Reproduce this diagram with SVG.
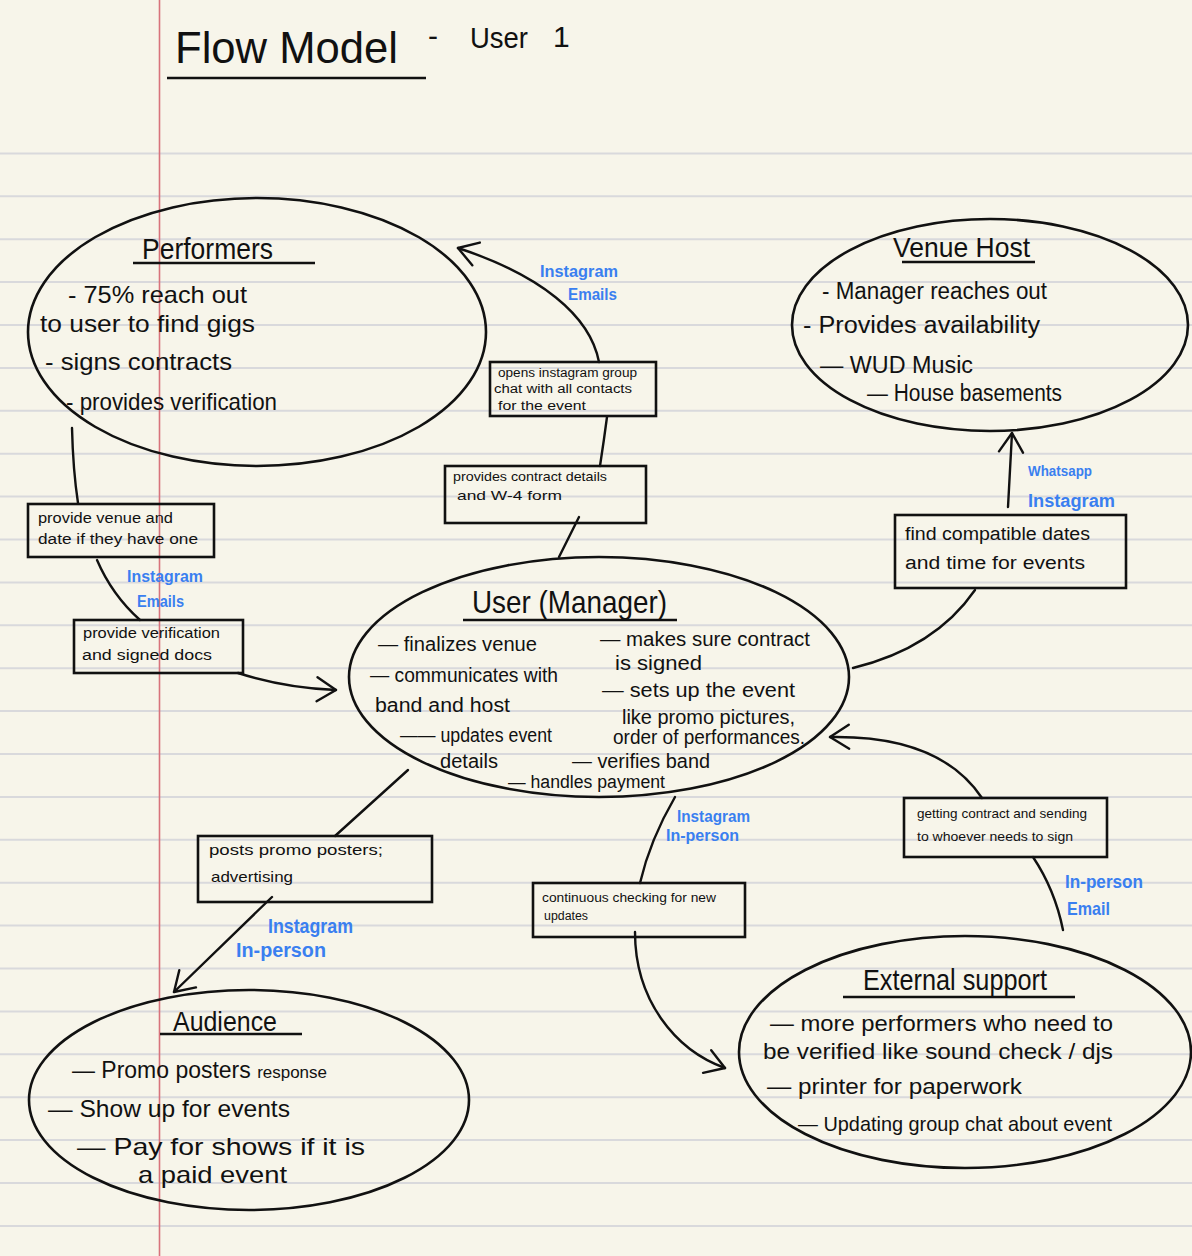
<svg xmlns="http://www.w3.org/2000/svg" width="1192" height="1256" viewBox="0 0 1192 1256">
<defs>
<style>
.paper{fill:#f7f5ea}
.rule{stroke:#d9d9dc;stroke-width:2}
.margin{stroke:#d8737c;stroke-width:1.6}
.node{fill:none;stroke:#111;stroke-width:2.6}
.box{fill:none;stroke:#111;stroke-width:2.6}
.ul{stroke:#111;stroke-width:2.6}
.conn{fill:none;stroke:#111;stroke-width:2.4;stroke-linecap:round}
.t{font-family:"Liberation Sans",Arial,sans-serif;fill:#111}
.blue{font-family:"Liberation Sans",Arial,sans-serif;fill:#3a7ff0;font-weight:bold}
</style>
<marker id="chev" markerUnits="userSpaceOnUse" markerWidth="30" markerHeight="30" viewBox="-22 -15 26 30" refX="0" refY="0" orient="auto">
<path d="M-19,-12 L0,0 L-19,12" fill="none" stroke="#111" stroke-width="2.4" stroke-linecap="round" stroke-linejoin="round"/>
</marker>
</defs>
<rect class="paper" x="0" y="0" width="1192" height="1256"/>
<g id="paper-rules">
<line class="rule" x1="0" y1="153.4" x2="1192" y2="153.4"/>
<line class="rule" x1="0" y1="196.3" x2="1192" y2="196.3"/>
<line class="rule" x1="0" y1="239.2" x2="1192" y2="239.2"/>
<line class="rule" x1="0" y1="282.1" x2="1192" y2="282.1"/>
<line class="rule" x1="0" y1="325" x2="1192" y2="325"/>
<line class="rule" x1="0" y1="367.9" x2="1192" y2="367.9"/>
<line class="rule" x1="0" y1="410.8" x2="1192" y2="410.8"/>
<line class="rule" x1="0" y1="453.7" x2="1192" y2="453.7"/>
<line class="rule" x1="0" y1="496.6" x2="1192" y2="496.6"/>
<line class="rule" x1="0" y1="539.5" x2="1192" y2="539.5"/>
<line class="rule" x1="0" y1="582.4" x2="1192" y2="582.4"/>
<line class="rule" x1="0" y1="625.3" x2="1192" y2="625.3"/>
<line class="rule" x1="0" y1="668.2" x2="1192" y2="668.2"/>
<line class="rule" x1="0" y1="711.1" x2="1192" y2="711.1"/>
<line class="rule" x1="0" y1="754" x2="1192" y2="754"/>
<line class="rule" x1="0" y1="796.9" x2="1192" y2="796.9"/>
<line class="rule" x1="0" y1="839.8" x2="1192" y2="839.8"/>
<line class="rule" x1="0" y1="882.7" x2="1192" y2="882.7"/>
<line class="rule" x1="0" y1="925.6" x2="1192" y2="925.6"/>
<line class="rule" x1="0" y1="968.5" x2="1192" y2="968.5"/>
<line class="rule" x1="0" y1="1011.4" x2="1192" y2="1011.4"/>
<line class="rule" x1="0" y1="1054.3" x2="1192" y2="1054.3"/>
<line class="rule" x1="0" y1="1097.2" x2="1192" y2="1097.2"/>
<line class="rule" x1="0" y1="1140.1" x2="1192" y2="1140.1"/>
<line class="rule" x1="0" y1="1183" x2="1192" y2="1183"/>
<line class="rule" x1="0" y1="1225.9" x2="1192" y2="1225.9"/>
<line class="margin" x1="159.5" y1="0" x2="159.5" y2="1256"/>
</g>
<g id="title">
<text class="t" x="175" y="63" font-size="44" textLength="223" lengthAdjust="spacingAndGlyphs">Flow Model</text>
<text class="t" x="428" y="46" font-size="30">-</text>
<text class="t" x="470" y="48" font-size="30" textLength="58" lengthAdjust="spacingAndGlyphs">User</text>
<text class="t" x="553" y="47" font-size="30">1</text>
<line class="ul" x1="167" y1="78" x2="426" y2="78" stroke-width="3"/>
</g>
<g id="connectors">
<path class="conn" d="M600,466 Q604,440 607,417"/>
<path class="conn" d="M599,362 C590,315 540,275 458,248" marker-end="url(#chev)"/>
<path class="conn" d="M579,517 L559,557"/>
<path class="conn" d="M72,428 Q73,470 78,503"/>
<path class="conn" d="M97,560 Q112,595 140,620"/>
<path class="conn" d="M238,673 Q285,688 336,690" marker-end="url(#chev)"/>
<path class="conn" d="M1008,507 Q1010,470 1012,433" marker-end="url(#chev)"/>
<path class="conn" d="M975,590 Q935,648 853,668"/>
<path class="conn" d="M408,770 L335,836"/>
<path class="conn" d="M272,897 L174,992" marker-end="url(#chev)"/>
<path class="conn" d="M675,797 Q650,840 640,883"/>
<path class="conn" d="M635,932 C635,1000 675,1050 725,1068" marker-end="url(#chev)"/>
<path class="conn" d="M982,798 Q940,735 830,737" marker-end="url(#chev)"/>
<path class="conn" d="M1033,857 Q1055,890 1063,930"/>
</g>
<g id="node-performers">
<ellipse class="node" cx="257" cy="332" rx="229" ry="134"/>
<text class="t" x="142" y="259" font-size="30" textLength="131" lengthAdjust="spacingAndGlyphs">Performers</text>
<line class="ul" x1="133" y1="263" x2="315" y2="263"/>
<text class="t" x="68" y="303" font-size="24" textLength="179" lengthAdjust="spacingAndGlyphs">- 75% reach out</text>
<text class="t" x="40" y="332" font-size="24" textLength="215" lengthAdjust="spacingAndGlyphs">to user to find gigs</text>
<text class="t" x="45" y="370" font-size="24" textLength="187" lengthAdjust="spacingAndGlyphs">- signs contracts</text>
<text class="t" x="66" y="410" font-size="24" textLength="211" lengthAdjust="spacingAndGlyphs">- provides verification</text>
</g>
<g id="node-venue-host">
<ellipse class="node" cx="990" cy="325" rx="198" ry="106"/>
<text class="t" x="893" y="257" font-size="28" textLength="137" lengthAdjust="spacingAndGlyphs">Venue Host</text>
<line class="ul" x1="902" y1="262" x2="1035" y2="262"/>
<text class="t" x="822" y="299" font-size="23" textLength="225" lengthAdjust="spacingAndGlyphs">- Manager reaches out</text>
<text class="t" x="803" y="333" font-size="23" textLength="237" lengthAdjust="spacingAndGlyphs">- Provides availability</text>
<text class="t" x="820" y="373" font-size="23" textLength="153" lengthAdjust="spacingAndGlyphs">— WUD Music</text>
<text class="t" x="867" y="401" font-size="23" textLength="195" lengthAdjust="spacingAndGlyphs">— House basements</text>
</g>
<g id="node-user">
<ellipse class="node" cx="599" cy="677" rx="250" ry="120"/>
<text class="t" x="472" y="613" font-size="32" textLength="195" lengthAdjust="spacingAndGlyphs">User (Manager)</text>
<line class="ul" x1="463" y1="620" x2="677" y2="620"/>
<text class="t" x="378" y="651" font-size="20" textLength="159" lengthAdjust="spacingAndGlyphs">— finalizes venue</text>
<text class="t" x="370" y="682" font-size="20" textLength="188" lengthAdjust="spacingAndGlyphs">— communicates with</text>
<text class="t" x="375" y="712" font-size="20" textLength="135" lengthAdjust="spacingAndGlyphs">band and host</text>
<text class="t" x="400" y="742" font-size="20" textLength="152" lengthAdjust="spacingAndGlyphs">—— updates event</text>
<text class="t" x="440" y="768" font-size="20" textLength="58" lengthAdjust="spacingAndGlyphs">details</text>
<text class="t" x="508" y="788" font-size="18" textLength="157" lengthAdjust="spacingAndGlyphs">— handles payment</text>
<text class="t" x="600" y="646" font-size="20" textLength="210" lengthAdjust="spacingAndGlyphs">— makes sure contract</text>
<text class="t" x="615" y="670" font-size="20" textLength="87" lengthAdjust="spacingAndGlyphs">is signed</text>
<text class="t" x="602" y="697" font-size="20" textLength="193" lengthAdjust="spacingAndGlyphs">— sets up the event</text>
<text class="t" x="622" y="724" font-size="20" textLength="173" lengthAdjust="spacingAndGlyphs">like promo pictures,</text>
<text class="t" x="613" y="744" font-size="20" textLength="192" lengthAdjust="spacingAndGlyphs">order of performances.</text>
<text class="t" x="572" y="768" font-size="20" textLength="138" lengthAdjust="spacingAndGlyphs">— verifies band</text>
</g>
<g id="node-external-support">
<ellipse class="node" cx="965" cy="1052" rx="226" ry="116"/>
<text class="t" x="863" y="990" font-size="30" textLength="184" lengthAdjust="spacingAndGlyphs">External support</text>
<line class="ul" x1="843" y1="997" x2="1075" y2="997"/>
<text class="t" x="770" y="1031" font-size="22" textLength="343" lengthAdjust="spacingAndGlyphs">— more performers who need to</text>
<text class="t" x="763" y="1059" font-size="22" textLength="350" lengthAdjust="spacingAndGlyphs">be verified like sound check / djs</text>
<text class="t" x="767" y="1094" font-size="22" textLength="255" lengthAdjust="spacingAndGlyphs">— printer for paperwork</text>
<text class="t" x="798" y="1131" font-size="21" textLength="314" lengthAdjust="spacingAndGlyphs">— Updating group chat about event</text>
</g>
<g id="node-audience">
<ellipse class="node" cx="249" cy="1100" rx="220" ry="110"/>
<text class="t" x="173" y="1031" font-size="28" textLength="104" lengthAdjust="spacingAndGlyphs">Audience</text>
<line class="ul" x1="160" y1="1034" x2="302" y2="1034"/>
<text class="t" x="72" y="1078" font-size="23" textLength="255" lengthAdjust="spacingAndGlyphs">— Promo posters <tspan font-size="17">response</tspan></text>
<text class="t" x="48" y="1117" font-size="24" textLength="242" lengthAdjust="spacingAndGlyphs">— Show up for events</text>
<text class="t" x="77" y="1155" font-size="24" textLength="288" lengthAdjust="spacingAndGlyphs">— Pay for shows if it is</text>
<text class="t" x="138" y="1183" font-size="24" textLength="149" lengthAdjust="spacingAndGlyphs">a paid event</text>
</g>
<g id="box-opens-group-chat">
<rect class="box" x="490" y="362" width="166" height="54"/>
<text class="t" x="498" y="377" font-size="12" textLength="139" lengthAdjust="spacingAndGlyphs">opens instagram group</text>
<text class="t" x="494" y="393" font-size="12" textLength="138" lengthAdjust="spacingAndGlyphs">chat with all contacts</text>
<text class="t" x="498" y="410" font-size="12" textLength="88" lengthAdjust="spacingAndGlyphs">for the event</text>
</g>
<g id="box-contract-details">
<rect class="box" x="445" y="466" width="201" height="57"/>
<text class="t" x="453" y="481" font-size="13" textLength="154" lengthAdjust="spacingAndGlyphs">provides contract details</text>
<text class="t" x="457" y="500" font-size="13" textLength="105" lengthAdjust="spacingAndGlyphs">and W-4 form</text>
</g>
<g id="box-venue-date">
<rect class="box" x="28" y="504" width="186" height="53"/>
<text class="t" x="38" y="523" font-size="14" textLength="135" lengthAdjust="spacingAndGlyphs">provide venue and</text>
<text class="t" x="38" y="544" font-size="14" textLength="160" lengthAdjust="spacingAndGlyphs">date if they have one</text>
</g>
<g id="box-verification-docs">
<rect class="box" x="74" y="620" width="169" height="53"/>
<text class="t" x="83" y="638" font-size="14" textLength="137" lengthAdjust="spacingAndGlyphs">provide verification</text>
<text class="t" x="82" y="660" font-size="14" textLength="130" lengthAdjust="spacingAndGlyphs">and signed docs</text>
</g>
<g id="box-compatible-dates">
<rect class="box" x="895" y="515" width="231" height="73"/>
<text class="t" x="905" y="540" font-size="18" textLength="185" lengthAdjust="spacingAndGlyphs">find compatible dates</text>
<text class="t" x="905" y="569" font-size="18" textLength="180" lengthAdjust="spacingAndGlyphs">and time for events</text>
</g>
<g id="box-promo-posters">
<rect class="box" x="198" y="836" width="234" height="66"/>
<text class="t" x="209" y="855" font-size="15" textLength="174" lengthAdjust="spacingAndGlyphs">posts promo posters;</text>
<text class="t" x="211" y="882" font-size="15" textLength="82" lengthAdjust="spacingAndGlyphs">advertising</text>
</g>
<g id="box-continuous-checking">
<rect class="box" x="533" y="883" width="212" height="54"/>
<text class="t" x="542" y="902" font-size="12" textLength="174" lengthAdjust="spacingAndGlyphs">continuous checking for new</text>
<text class="t" x="544" y="920" font-size="12" textLength="44" lengthAdjust="spacingAndGlyphs">updates</text>
</g>
<g id="box-getting-contract">
<rect class="box" x="904" y="798" width="203" height="59"/>
<text class="t" x="917" y="818" font-size="13" textLength="170" lengthAdjust="spacingAndGlyphs">getting contract and sending</text>
<text class="t" x="917" y="841" font-size="13" textLength="156" lengthAdjust="spacingAndGlyphs">to whoever needs to sign</text>
</g>
<g id="labels">
<text class="blue" x="540" y="277" font-size="17" textLength="78" lengthAdjust="spacingAndGlyphs">Instagram</text>
<text class="blue" x="568" y="300" font-size="17" textLength="49" lengthAdjust="spacingAndGlyphs">Emails</text>
<text class="blue" x="127" y="582" font-size="16" textLength="76" lengthAdjust="spacingAndGlyphs">Instagram</text>
<text class="blue" x="137" y="607" font-size="16" textLength="47" lengthAdjust="spacingAndGlyphs">Emails</text>
<text class="blue" x="1028" y="476" font-size="15" textLength="64" lengthAdjust="spacingAndGlyphs">Whatsapp</text>
<text class="blue" x="1028" y="507" font-size="18" textLength="87" lengthAdjust="spacingAndGlyphs">Instagram</text>
<text class="blue" x="268" y="933" font-size="20" textLength="85" lengthAdjust="spacingAndGlyphs">Instagram</text>
<text class="blue" x="236" y="957" font-size="20" textLength="90" lengthAdjust="spacingAndGlyphs">In-person</text>
<text class="blue" x="677" y="822" font-size="16" textLength="73" lengthAdjust="spacingAndGlyphs">Instagram</text>
<text class="blue" x="666" y="841" font-size="16" textLength="73" lengthAdjust="spacingAndGlyphs">In-person</text>
<text class="blue" x="1065" y="888" font-size="19" textLength="78" lengthAdjust="spacingAndGlyphs">In-person</text>
<text class="blue" x="1067" y="915" font-size="19" textLength="43" lengthAdjust="spacingAndGlyphs">Email</text>
</g>
</svg>
